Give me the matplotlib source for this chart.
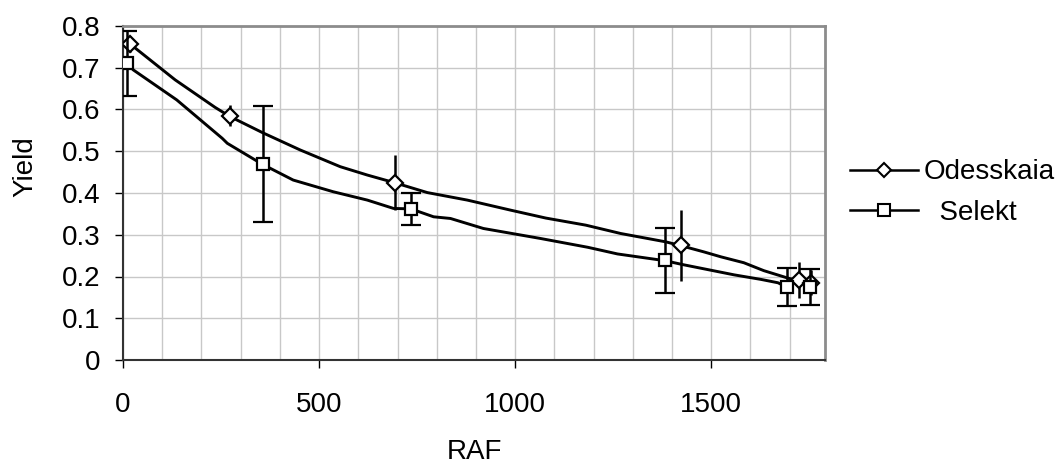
import matplotlib
matplotlib.use("Agg")
import matplotlib.pyplot as plt
from matplotlib.ticker import MultipleLocator, FuncFormatter

# ── data ───────────────────────────────────────────────────────────
# fitted curves (dense points)
odess_curve_x = [18, 133, 235, 273, 357, 452, 554, 623, 695, 776, 878, 988,
                 1078, 1180, 1269, 1384, 1422, 1481, 1525, 1583, 1634, 1696, 1724]
odess_curve_y = [0.757, 0.671, 0.605, 0.583, 0.544, 0.503, 0.463, 0.443, 0.424,
                 0.401, 0.383, 0.359, 0.340, 0.323, 0.303, 0.283, 0.274, 0.259,
                 0.247, 0.233, 0.214, 0.196, 0.190]

selekt_curve_x = [10, 26, 137, 253, 266, 355, 434, 536, 623, 690, 734, 792, 835,
                  919, 1065, 1185, 1261, 1381, 1430, 1558, 1627, 1670, 1692]
selekt_curve_y = [0.711, 0.695, 0.623, 0.531, 0.519, 0.469, 0.431, 0.403, 0.383,
                  0.363, 0.362, 0.343, 0.339, 0.315, 0.291, 0.270, 0.254, 0.238,
                  0.228, 0.204, 0.193, 0.185, 0.175]

# measured points with error bars
odess_x = [18, 273, 694, 1422, 1724, 1755]
odess_y = [0.757, 0.585, 0.425, 0.275, 0.191, 0.185]
odess_err = [0.02, 0.025, 0.065, 0.085, 0.043, 0.03]

selekt_x = [10, 356, 735, 1382, 1692, 1752]
selekt_y = [0.711, 0.470, 0.362, 0.239, 0.175, 0.175]
selekt_err = [0.078, 0.139, 0.038, 0.078, 0.045, 0.043]

plt.rcParams["font.family"] = ["Liberation Sans", "DejaVu Sans"]
FS = 20

fig = plt.figure(figsize=(10.58, 4.65), dpi=100)
ax = fig.add_axes([123 / 1058, 105 / 465, 702 / 1058, 334 / 465])

# ── curves + markers ───────────────────────────────────────────────
ax.plot(odess_curve_x, odess_curve_y, color="black", linewidth=2.1, zorder=3)
ax.plot(selekt_curve_x, selekt_curve_y, color="black", linewidth=2.1, zorder=3)

ax.errorbar(odess_x, odess_y, yerr=odess_err, fmt="D", color="black",
            markerfacecolor="white", markeredgecolor="black", markersize=8,
            markeredgewidth=1.6, elinewidth=1.8, capsize=0, zorder=4)
ax.errorbar(selekt_x, selekt_y, yerr=selekt_err, fmt="s", color="black",
            markerfacecolor="white", markeredgecolor="black", markersize=8.5,
            markeredgewidth=1.6, elinewidth=1.8, capsize=7, capthick=1.8,
            zorder=5)

# legend proxies
ax.plot([], [], color="black", linewidth=1.8, marker="D", markersize=7,
        markerfacecolor="white", markeredgewidth=1.5, label="Odesskaia")
ax.plot([], [], color="black", linewidth=1.8, marker="s", markersize=8,
        markerfacecolor="white", markeredgewidth=1.5, label="  Selekt")

# ── axes styling ───────────────────────────────────────────────────
ax.set_xlim(0, 1790)
ax.set_ylim(0, 0.8)
ax.xaxis.set_major_locator(MultipleLocator(500))
ax.xaxis.set_minor_locator(MultipleLocator(100))
ax.yaxis.set_major_locator(MultipleLocator(0.1))
ax.yaxis.set_major_formatter(FuncFormatter(lambda v, p: "0" if abs(v) < 1e-9 else f"{v:.1f}"))

ax.grid(True, which="both", axis="x", color="#c8c8c8", linewidth=1.0)
ax.grid(True, which="major", axis="y", color="#c8c8c8", linewidth=1.0)
ax.set_axisbelow(True)

ax.tick_params(axis="both", which="major", direction="out", length=6,
               width=1, labelsize=FS, colors="black")
ax.tick_params(axis="x", which="major", pad=17)
ax.tick_params(axis="y", which="major", pad=10)
ax.tick_params(axis="x", which="minor", length=0)

for side in ("left", "bottom"):
    ax.spines[side].set_color("#333333")
    ax.spines[side].set_linewidth(1.5)
for side in ("top", "right"):
    ax.spines[side].set_color("#8c8c8c")
    ax.spines[side].set_linewidth(2)

ax.set_xlabel("RAF", fontsize=FS, labelpad=15)
ax.set_ylabel("Yield", fontsize=FS)
ax.yaxis.set_label_coords(-0.12, 0.578)

ax.legend(loc="center left", bbox_to_anchor=(850 / 1058, 272.5 / 465),
          bbox_transform=fig.transFigure, frameon=False, fontsize=FS,
          handlelength=2.45, handletextpad=0.2, labelspacing=0.52,
          borderaxespad=0, borderpad=0)

fig.savefig("out.png", dpi=100)
